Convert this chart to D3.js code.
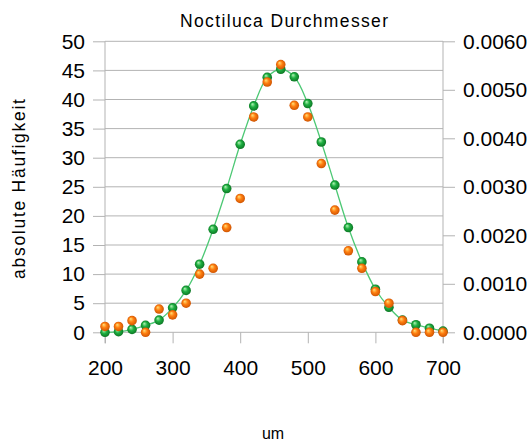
<!DOCTYPE html>
<html>
<head>
<meta charset="utf-8">
<script src="https://cdn.jsdelivr.net/npm/d3@7"></script>
<style>
  html, body { margin: 0; padding: 0; background: #fff; }
  svg { display: block; font-family: "Liberation Sans", Arial, sans-serif; }
</style>
</head>
<body>
<svg id="chart" width="532" height="441"></svg>
<script>
// ---- data ----
const diameters = [200, 220, 240, 260, 280, 300, 320, 340, 360, 380, 400, 420, 440,
                   460, 480, 500, 520, 540, 560, 580, 600, 620, 640, 660, 680, 700];
const fitted = [0.0, 0.1, 0.5, 1.2, 2.1, 4.2, 7.2, 11.7, 17.7, 24.7, 32.3, 38.9, 43.8,
                45.2, 43.9, 39.3, 32.7, 25.3, 18.0, 12.1, 7.4, 4.3, 2.1, 1.3, 0.7, 0.2];
const observed = [1, 1, 2, 0, 4, 3, 5, 10, 11, 18, 23, 37, 43,
                  46, 39, 37, 29, 21, 14, 11, 7, 5, 2, 0, 0, 0];
const xTicks = [200, 300, 400, 500, 600, 700];
const yTicks = [0, 5, 10, 15, 20, 25, 30, 35, 40, 45, 50];
const y2Ticks = [0, 0.001, 0.002, 0.003, 0.004, 0.005, 0.006];
const titleText = "Noctiluca Durchmesser";
const yLabel = "absolute Häufigkeit";
const xLabel = "um";

(function () {
// ---- layout ----
const svg = d3.select("#chart");
const pLeft = 105, pRight = 443, pTop = 41.3, pBottom = 332.3;
const x = d3.scaleLinear().domain([200, 700]).range([pLeft, pRight]);
const y = d3.scaleLinear().domain([0, 50]).range([pBottom, pTop]);
const y2 = d3.scaleLinear().domain([0, 0.006]).range([pBottom, pTop]);
const gridColor = "#b3b3b3";

// gradients
const defs = svg.append("defs");
function sphere(id, hi, mid, edge) {
  const g = defs.append("radialGradient").attr("id", id)
    .attr("cx", "50%").attr("cy", "50%").attr("r", "55%")
    .attr("fx", "35%").attr("fy", "30%");
  g.append("stop").attr("offset", "0%").attr("stop-color", hi);
  g.append("stop").attr("offset", "45%").attr("stop-color", mid);
  g.append("stop").attr("offset", "100%").attr("stop-color", edge);
}
sphere("gGreen", "#b8f5b8", "#1fb042", "#0a6e20");
sphere("gOrange", "#ffe27a", "#ff7f10", "#c84e00");

// grid lines
svg.append("g").selectAll("line").data(yTicks).join("line")
  .attr("x1", pLeft).attr("x2", pRight)
  .attr("y1", d => y(d)).attr("y2", d => y(d))
  .attr("stroke", gridColor).attr("stroke-width", 1);

// axis frame lines
svg.append("line").attr("x1", pLeft).attr("x2", pLeft).attr("y1", pTop).attr("y2", pBottom + 11)
  .attr("stroke", gridColor);
svg.append("line").attr("x1", pRight).attr("x2", pRight).attr("y1", pTop).attr("y2", pBottom + 11)
  .attr("stroke", gridColor);

// axes
function styleAxis(g) {
  g.select(".domain").remove();
  g.selectAll(".tick line").attr("stroke", gridColor);
  g.selectAll(".tick text").attr("fill", "#000")
    .style("font-family", "'Liberation Sans', Arial, sans-serif").style("font-size", "21px");
}
svg.append("g").attr("transform", `translate(${pLeft},0)`)
  .call(d3.axisLeft(y).tickValues(yTicks).tickSize(12).tickPadding(8).tickFormat(d3.format("d")))
  .call(styleAxis);
svg.append("g").attr("transform", `translate(${pRight},0)`)
  .call(d3.axisRight(y2).tickValues(y2Ticks).tickSize(12).tickPadding(8).tickFormat(d3.format(".4f")))
  .call(styleAxis);
svg.append("g").attr("transform", `translate(0,${pBottom})`)
  .call(d3.axisBottom(x).tickValues(xTicks).tickSize(11).tickPadding(17).tickFormat(d3.format("d")))
  .call(styleAxis);

// fitted curve
const pts = diameters.map((d, i) => ({ d, f: fitted[i], o: observed[i] }));
svg.append("path").datum(pts)
  .attr("fill", "none").attr("stroke", "#4cc874").attr("stroke-width", 1.3)
  .attr("d", d3.line().x(p => x(p.d)).y(p => y(p.f)).curve(d3.curveCatmullRom.alpha(0.5)));

svg.append("g").selectAll("circle").data(pts).join("circle")
  .attr("cx", p => x(p.d)).attr("cy", p => y(p.f)).attr("r", 4.8)
  .attr("fill", "url(#gGreen)");
svg.append("g").selectAll("circle").data(pts).join("circle")
  .attr("cx", p => x(p.d)).attr("cy", p => y(p.o)).attr("r", 4.8)
  .attr("fill", "url(#gOrange)");

// texts
svg.append("text").text(titleText)
  .attr("x", 284).attr("y", 26.7).attr("text-anchor", "middle")
  .attr("textLength", 208).attr("lengthAdjust", "spacing")
  .style("font-size", "17.5px").attr("fill", "#000");
svg.append("text").text(yLabel)
  .attr("transform", "rotate(-90)")
  .attr("x", -189).attr("y", 24.5).attr("text-anchor", "middle")
  .attr("textLength", 180).attr("lengthAdjust", "spacing")
  .style("font-size", "17.5px").attr("fill", "#000");
svg.append("text").text(xLabel)
  .attr("x", 273).attr("y", 439).attr("text-anchor", "middle")
  .style("font-size", "16px").attr("fill", "#000");
})();
</script>
</body>
</html>
